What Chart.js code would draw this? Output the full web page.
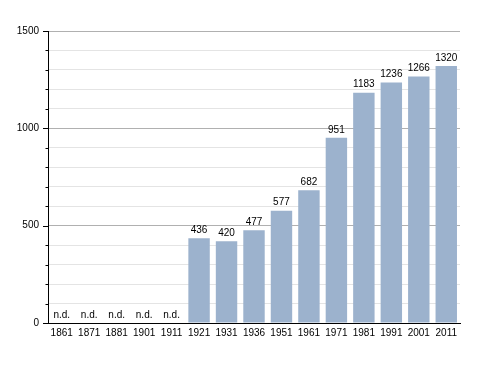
<!DOCTYPE html>
<html>
<head>
<meta charset="utf-8">
<script src="https://cdn.jsdelivr.net/npm/chart.js@4"></script>
<style>
  html, body { margin: 0; padding: 0; background: #fff; }
  #wrap { width: 488px; height: 373px; }
</style>
</head>
<body>
<div id="wrap"><canvas id="chart" width="488" height="373"></canvas></div>
<script>
// census years and population (null = no data, shown as n.d.)
const years = ['1861', '1871', '1881', '1901', '1911', '1921', '1931', '1936', '1951', '1961', '1971', '1981', '1991', '2001', '2011'];
const population = [null, null, null, null, null, 436, 420, 477, 577, 682, 951, 1183, 1236, 1266, 1320];
const yTicks = [0, 500, 1000, 1500];

const FONT = '"Liberation Sans", Arial, sans-serif';

// value labels over the bars, "n.d." where there is no value
const labelPlugin = {
  id: 'barLabels',
  afterDatasetsDraw(chart) {
    const ctx = chart.ctx;
    const meta = chart.getDatasetMeta(0);
    const xScale = chart.scales.x;
    const yScale = chart.scales.y;
    ctx.save();
    ctx.font = '10px ' + FONT;
    ctx.fillStyle = '#000';
    ctx.textAlign = 'center';
    ctx.textBaseline = 'bottom';
    population.forEach((v, i) => {
      if (v == null) {
        ctx.fillText('n.d.', xScale.getPixelForValue(i), yScale.getPixelForValue(0) - 3);
      } else {
        const bar = meta.data[i];
        ctx.fillText(String(v), bar.x, bar.y - 3);
      }
    });
    ctx.restore();
  }
};

// tick marks on the y axis: long at labelled values, short in between
const tickPlugin = {
  id: 'yTickMarks',
  afterDraw(chart) {
    const ctx = chart.ctx;
    const yScale = chart.scales.y;
    const left = chart.chartArea.left;
    ctx.save();
    ctx.strokeStyle = '#000';
    ctx.lineWidth = 1;
    yScale.ticks.forEach(t => {
      const y = Math.round(yScale.getPixelForValue(t.value)) + 0.5;
      const len = yTicks.includes(t.value) ? 5 : 2.5;
      ctx.beginPath();
      ctx.moveTo(left - len, y);
      ctx.lineTo(left, y);
      ctx.stroke();
    });
    ctx.restore();
  }
};

new Chart(document.getElementById('chart'), {
  type: 'bar',
  data: {
    labels: years,
    datasets: [{
      data: population,
      backgroundColor: '#9cb2cd',
      borderWidth: 0,
      barPercentage: 0.78,
      categoryPercentage: 1
    }]
  },
  options: {
    responsive: false,
    animation: false,
    layout: { padding: { top: 31, right: 28, bottom: 30, left: 0 } },
    plugins: {
      legend: { display: false },
      tooltip: { enabled: false }
    },
    scales: {
      x: {
        grid: { display: false, drawTicks: false },
        border: { display: true, color: '#000', width: 1 },
        ticks: {
          color: '#000',
          font: { family: FONT, size: 10 },
          padding: 4,
          maxRotation: 0,
          autoSkip: false
        },
        afterFit(scale) { scale.height = 20; }
      },
      y: {
        min: 0,
        max: 1500,
        grid: {
          drawTicks: false,
          color: ctx => (ctx.tick && yTicks.includes(ctx.tick.value)) ? '#b0b0b0' : '#e4e4e4'
        },
        border: { display: true, color: '#000', width: 1 },
        ticks: {
          stepSize: 100,
          color: '#000',
          font: { family: FONT, size: 10 },
          padding: 9,
          callback: v => yTicks.includes(v) ? String(v) : ''
        },
        afterFit(scale) { scale.width = 48; }
      }
    }
  },
  plugins: [labelPlugin, tickPlugin]
});
</script>
</body>
</html>
